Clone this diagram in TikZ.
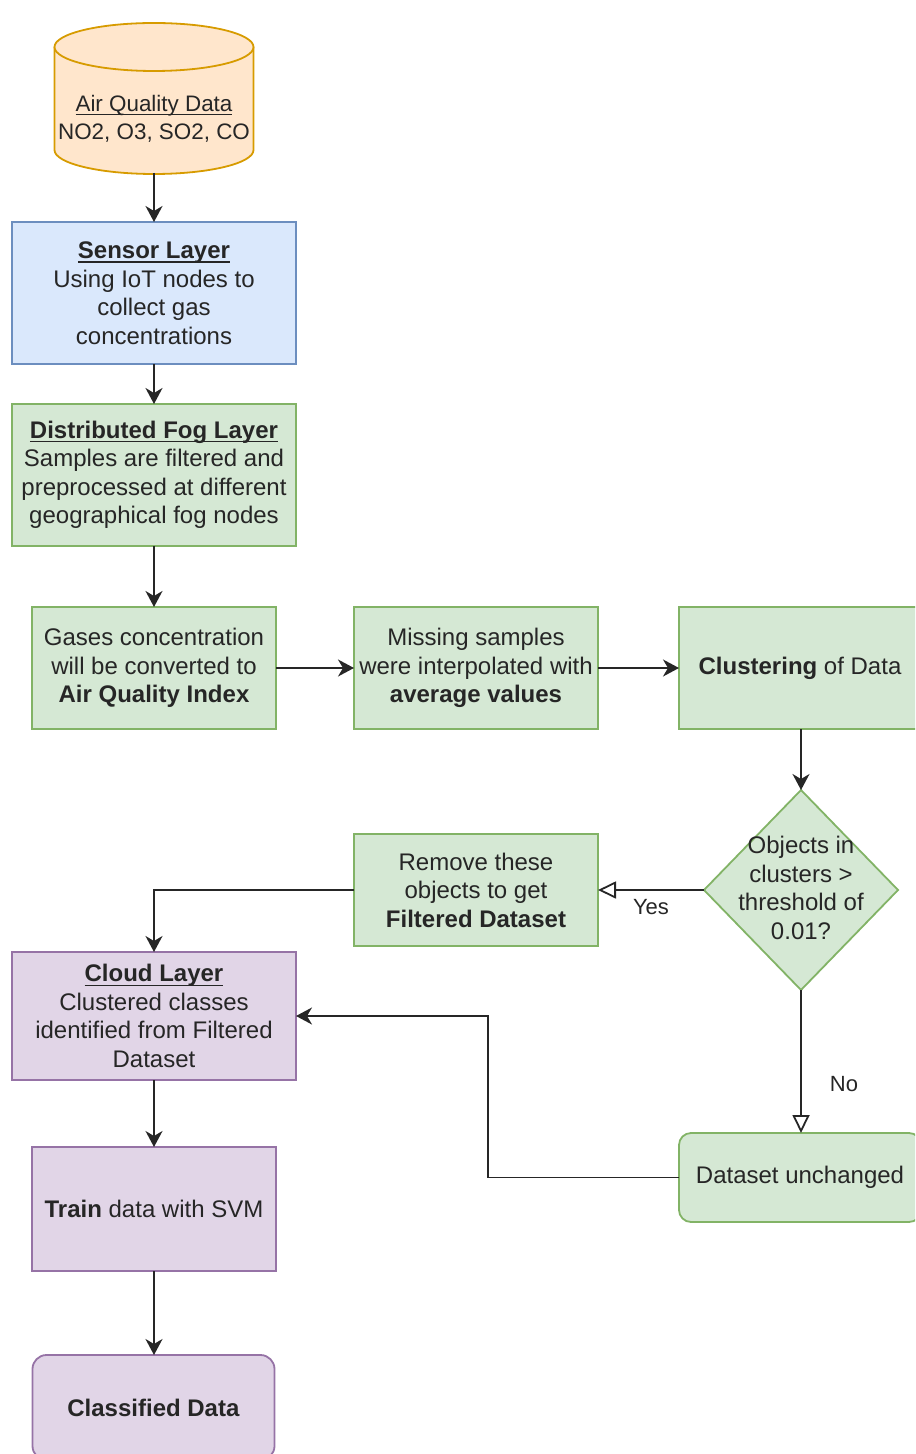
\documentclass[tikz,border=0pt]{standalone}
\usepackage{fontspec}
\setmainfont{Liberation Sans}
\usetikzlibrary{arrows.meta,shapes.geometric}

\definecolor{txt}{HTML}{262626}
\definecolor{blueF}{HTML}{DAE8FC}\definecolor{blueD}{HTML}{6C8EBF}
\definecolor{greenF}{HTML}{D5E8D4}\definecolor{greenD}{HTML}{82B366}
\definecolor{purpF}{HTML}{E1D5E7}\definecolor{purpD}{HTML}{9673A6}
\definecolor{orgF}{HTML}{FFE6CC}\definecolor{orgD}{HTML}{D79B00}

% underline drawn just below the baseline
\newcommand\ulbox[1]{\setbox0\hbox{#1}\rlap{\rule[-2pt]{\wd0}{0.6pt}}\box0}

\tikzset{
  box/.style={draw, line width=0.9pt, inner sep=0pt, outer sep=0pt, align=center, text=txt},
  bluebox/.style={box, fill=blueF, draw=blueD},
  greenbox/.style={box, fill=greenF, draw=greenD},
  purpbox/.style={box, fill=purpF, draw=purpD},
  flow/.style={line width=0.9pt, draw=txt, -{Stealth[length=8pt, width=8.5pt, inset=2.5pt]}},
  openflow/.style={line width=0.9pt, draw=txt, -{Triangle[open, length=9pt, width=8.5pt, fill=white]}},
  lbl/.style={font=\fontsize{11}{13}\selectfont, text=txt, inner sep=1pt}
}

\begin{document}
\begin{tikzpicture}[x=0.5pt, y=-0.5pt, font=\fontsize{12}{14.25}\selectfont]
\useasboundingbox (0,0) rectangle (915,1454);
\clip (0,0) rectangle (915,1454);

% data store cylinder
\filldraw[fill=orgF, draw=orgD, line width=0.9pt]
  (54.5,47) -- (54.5,150) arc[start angle=180, end angle=360, x radius=49.75pt, y radius=12pt]
  -- (253.5,47);
\filldraw[fill=orgF, draw=orgD, line width=0.9pt]
  (154,47) ellipse [x radius=49.75pt, y radius=12pt];
\node[minimum width=99.5pt, minimum height=75pt, inner sep=0pt, outer sep=0pt] (aqd) at (154,98) {};
\node[align=center, text=txt, inner sep=0pt, font=\fontsize{11.2}{14.25}\selectfont] (aqdtext) at (154,119)
  {\ulbox{Air Quality Data}\\NO2, O3, SO2, CO};

% fog / sensor layers
\node[bluebox, minimum width=142pt, minimum height=71pt] (sensor) at (154,293)
  {\ulbox{\textbf{Sensor Layer}}\\Using IoT nodes to\\collect gas\\concentrations};
\node[greenbox, minimum width=142pt, minimum height=71pt] (fog) at (154,475)
  {\ulbox{\textbf{Distributed Fog Layer}}\\Samples are filtered and\\preprocessed at different\\geographical fog nodes};

% processing row
\node[greenbox, minimum width=122pt, minimum height=61pt] (gases) at (154,668)
  {Gases concentration\\will be converted to\\\textbf{Air Quality Index}};
\node[greenbox, minimum width=122pt, minimum height=61pt] (missing) at (476,668)
  {Missing samples\\were interpolated with\\\textbf{average values}};
\node[greenbox, minimum width=121pt, minimum height=61pt] (clus) at (800,668)
  {\textbf{Clustering} of Data};

% decision
\node[diamond, draw=greenD, fill=greenF, line width=0.9pt, minimum width=97pt, minimum height=100pt, inner sep=0pt, outer sep=0pt] (dec) at (801,890) {};
\node[align=center, text=txt, inner sep=0pt] (dectext) at (801,888) {Objects in\\clusters >\\threshold of\\0.01?};

\node[greenbox, minimum width=122pt, minimum height=56pt] (remove) at (476,890)
  {Remove these\\objects to get\\\textbf{Filtered Dataset}};
\node[greenbox, rounded corners=6pt, minimum width=121pt, minimum height=44.5pt] (unch) at (800,1177.5)
  {Dataset unchanged};

% cloud layer
\node[purpbox, minimum width=142pt, minimum height=64pt] (cloud) at (154,1016)
  {\ulbox{\textbf{Cloud Layer}}\\Clustered classes\\identified from Filtered\\Dataset};
\node[purpbox, minimum width=122pt, minimum height=62pt] (train) at (154,1209)
  {\textbf{Train} data with SVM};
\node[purpbox, rounded corners=7pt, minimum width=121pt, minimum height=52.5pt] (cls) at (153.5,1407.5)
  {\textbf{Classified Data}};

% connectors
\draw[flow] (aqd.south) -- (sensor.north);
\draw[flow] (sensor.south) -- (fog.north);
\draw[flow] (fog.south) -- (gases.north);
\draw[flow] (gases.east) -- (missing.west);
\draw[flow] (missing.east) -- (clus.west);
\draw[flow] (clus.south -| dec.north) -- (dec.north);
\draw[openflow] (dec.west) -- node[lbl, below=3pt] {Yes} (remove.east);
\draw[flow] (remove.west) -| (cloud.north);
\draw[openflow] (dec.south) -- node[lbl, pos=0.66, anchor=west, xshift=13pt] {No} (dec.south |- unch.north);
\coordinate (bend) at (488,1177.5);
\draw[flow] (unch.west) -- (bend) |- (cloud.east);
\draw[flow] (cloud.south) -- (train.north);
\draw[flow] (train.south) -- (train.south |- cls.north);
\end{tikzpicture}
\end{document}
